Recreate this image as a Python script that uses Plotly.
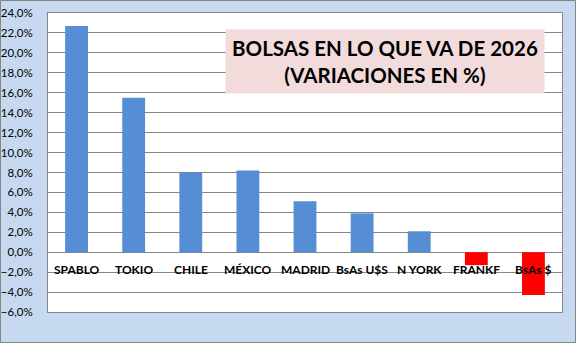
import plotly.graph_objects as go

categories = ["SPABLO", "TOKIO", "CHILE", "MÉXICO", "MADRID", "BsAs U$S", "N YORK", "FRANKF", "BsAs $"]
values = [22.7, 15.5, 8.0, 8.2, 5.1, 3.9, 2.1, -1.3, -4.3]
title_lines = ["BOLSAS EN LO QUE VA DE 2026", "(VARIACIONES EN %)"]

colors = ["#558ED5" if v >= 0 else "#FF0000" for v in values]

fig = go.Figure()
fig.add_trace(go.Bar(x=categories, y=values, marker=dict(color=colors, line=dict(width=0)),
                     width=0.4, showlegend=False))

for c in categories:
    fig.add_annotation(x=c, y=0, xref="x", yref="y", text=c, showarrow=False,
                       yanchor="middle", yshift=-17,
                       font=dict(family="Lato, Open Sans, sans-serif", size=12, color="#000000", weight="bold"))

fig.add_annotation(x=(385 - 48) / 514, y=(312 - 61) / 299, xref="paper", yref="paper",
                   xanchor="center", yanchor="middle",
                   text="<br>".join(title_lines), showarrow=False,
                   bgcolor="#F2DCDB", borderpad=6, width=306,
                   font=dict(family="Lato, Open Sans, sans-serif", size=20.5, color="#000000", weight="bold"),
                   align="center")

fig.add_shape(type="rect", xref="paper", yref="paper",
              x0=-47.5/514, x1=1 + 13.5/514, y0=-30.5/299, y1=1 + 12.5/299,
              line=dict(color="#868686", width=1), layer="below")

fig.update_layout(
    width=576, height=343,
    margin=dict(l=48, r=14, t=13, b=31),
    paper_bgcolor="#C6D9F1",
    plot_bgcolor="#FFFFFF",
    separators=",.",
    bargap=0.6,
    xaxis=dict(showticklabels=False, showgrid=False, showline=True, mirror=True,
               linecolor="#868686", linewidth=1, zeroline=False, automargin=False),
    yaxis=dict(range=[-6, 24], dtick=2, tick0=0, tickformat=".1f", ticksuffix="%",
               showgrid=True, gridcolor="#868686", gridwidth=1,
               zeroline=True, zerolinecolor="#868686", zerolinewidth=1,
               showline=True, mirror=True, linecolor="#868686", linewidth=1,
               ticklabelstandoff=12, automargin=False,
               tickfont=dict(family="Lato, Open Sans, sans-serif", size=11.5, color="#000000")),
)

fig.write_html("out.html")
